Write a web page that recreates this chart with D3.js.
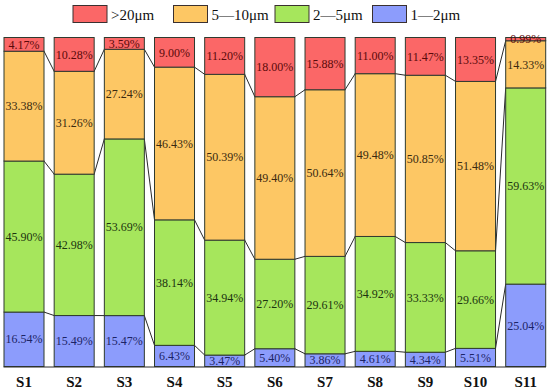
<!DOCTYPE html>
<html>
<head>
<meta charset="utf-8">
<script src="https://cdn.jsdelivr.net/npm/d3@7/dist/d3.min.js"></script>
<style>
html,body{margin:0;padding:0;background:#fff;}
svg{display:block;}
</style>
</head>
<body>
<svg id="chart" width="550" height="392"></svg>
<script>
const categories = ["S1","S2","S3","S4","S5","S6","S7","S8","S9","S10","S11"];
const seriesNames = ["1—2μm","2—5μm","5—10μm",">20μm"];
const blue   = [16.54,15.49,15.47,6.43,3.47,5.40,3.86,4.61,4.34,5.51,25.04];
const green  = [45.90,42.98,53.69,38.14,34.94,27.20,29.61,34.92,33.33,29.66,59.63];
const orange = [33.38,31.26,27.24,46.43,50.39,49.40,50.64,49.48,50.85,51.48,14.33];
const red    = [4.17,10.28,3.59,9.00,11.20,18.00,15.88,11.00,11.47,13.35,0.99];
const legendOrder = [">20μm","5—10μm","2—5μm","1—2μm"];

const colors = {"1—2μm":"#8c9cfc","2—5μm":"#a6e65c","5—10μm":"#fdc764",">20μm":"#fb6767"};
const labelColors = {"1—2μm":"#1c2466","2—5μm":"#1c3410","5—10μm":"#3a2a10",">20μm":"#5a0a0a"};
const values = {"1—2μm":blue,"2—5μm":green,"5—10μm":orange,">20μm":red};

const rows = categories.map((c,i)=>{
  const r = {cat:c};
  seriesNames.forEach(s=>r[s]=values[s][i]);
  return r;
});

const FONT = "Liberation Serif";
const svg = d3.select("#chart");
const x = d3.scaleBand().domain(categories).range([4, 545.7]).paddingInner(0.2027).paddingOuter(0);
const y = d3.scaleLinear().domain([0,1]).range([366.5, 37.5]);

const stack = d3.stack().keys(seriesNames).offset(d3.stackOffsetExpand);
const layers = stack(rows);

// series lines
const lineG = svg.append("g");
layers.slice(0, layers.length-1).forEach(layer=>{
  for(let i=0;i<categories.length-1;i++){
    lineG.append("line")
      .attr("x1", x(categories[i]) + x.bandwidth())
      .attr("y1", y(layer[i][1]))
      .attr("x2", x(categories[i+1]))
      .attr("y2", y(layer[i+1][1]))
      .attr("stroke","#2a2a2a").attr("stroke-width",1);
  }
});

// bars
const g = svg.append("g");
layers.forEach(layer=>{
  const key = layer.key;
  g.selectAll(null).data(layer).enter().append("rect")
    .attr("x", d=>x(d.data.cat))
    .attr("y", d=>y(d[1]))
    .attr("width", x.bandwidth())
    .attr("height", d=>y(d[0])-y(d[1]))
    .attr("fill", colors[key])
    .attr("stroke","#2f3a2f").attr("stroke-width",1);
});

// labels
layers.forEach(layer=>{
  const key = layer.key;
  g.selectAll(null).data(layer).enter().append("text")
    .attr("x", d=>x(d.data.cat)+x.bandwidth()/2)
    .attr("y", d=>(y(d[0])+y(d[1]))/2)
    .attr("dy","0.35em")
    .attr("text-anchor","middle")
    .attr("font-family", FONT)
    .attr("font-size", 12)
    .attr("fill", labelColors[key])
    .text(d=>d.data[key].toFixed(2)+"%");
});

// x axis
const xAxis = svg.append("g").attr("transform","translate(0,366.5)")
  .call(d3.axisBottom(x).tickSize(0).tickPadding(10));
xAxis.attr("font-family", FONT).attr("font-size", 15);
xAxis.select(".domain").attr("d","M3.5,0.5H546").attr("stroke","#2a2a2a");
xAxis.selectAll("text")
  .attr("dy", null).attr("y", 20)
  .attr("font-family", FONT)
  .attr("font-size", 15).attr("font-weight","bold").attr("fill","#111");

// legend
const legendX = [73, 173.5, 275, 372.5];
const leg = svg.append("g");
legendOrder.forEach((s,i)=>{
  leg.append("rect").attr("x",legendX[i]).attr("y",5.5).attr("width",34).attr("height",17)
    .attr("fill",colors[s]).attr("stroke","#3a3030").attr("stroke-width",1);
  leg.append("text").attr("x",legendX[i]+38).attr("y",19.5)
    .attr("font-family", FONT)
    .attr("font-size", 15).attr("fill","#111").text(s);
});
</script>
</body>
</html>
